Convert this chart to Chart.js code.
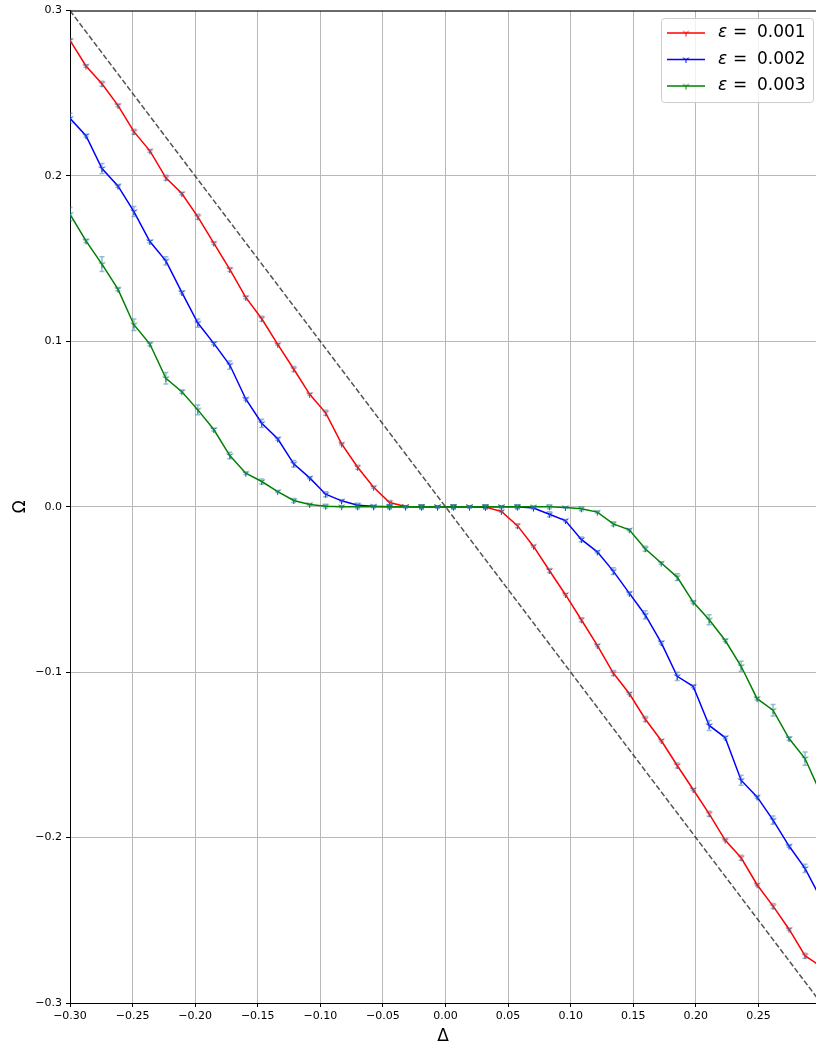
<!DOCTYPE html>
<html>
<head>
<meta charset="utf-8">
<script src="https://cdn.jsdelivr.net/npm/chart.js@4.4.0/dist/chart.umd.min.js"></script>
<style>
  html, body { margin: 0; padding: 0; background: #fff; }
  #wrap { width: 816px; height: 1048px; }
</style>
</head>
<body>
<div id="wrap"><canvas id="chart" width="816" height="1048"></canvas></div>
<script>
// detuning values (Δ)
const delta = [
  -0.3, -0.28723, -0.27447, -0.2617, -0.24894, -0.23617, -0.2234, -0.21064,
  -0.19787, -0.18511, -0.17234, -0.15957, -0.14681, -0.13404, -0.12128, -0.10851,
  -0.09574, -0.08298, -0.07021, -0.05745, -0.04468, -0.03191, -0.01915, -0.00638,
  0.00638, 0.01915, 0.03191, 0.04468, 0.05745, 0.07021, 0.08298, 0.09574,
  0.10851, 0.12128, 0.13404, 0.14681, 0.15957, 0.17234, 0.18511, 0.19787,
  0.21064, 0.2234, 0.23617, 0.24894, 0.2617, 0.27447, 0.28723, 0.3
];

// Ω for each ε
const omegaEps1 = [
  0.282, 0.2665, 0.2558, 0.2427, 0.2268, 0.2152, 0.1989, 0.1894,
  0.1753, 0.1594, 0.1435, 0.1266, 0.1137, 0.0982, 0.0833, 0.068,
  0.0568, 0.038, 0.0239, 0.0118, 0.0026, 0.0002, 0.0, 0.0,
  0.0, 0.0, -0.0002, -0.0028, -0.0114, -0.0238, -0.0385, -0.053,
  -0.0683, -0.0838, -0.1005, -0.1129, -0.1283, -0.1413, -0.1564, -0.1709,
  -0.1856, -0.2015, -0.2122, -0.2285, -0.2414, -0.2554, -0.2714, -0.278
];
const omegaEps2 = [
  0.2349, 0.2244, 0.2045, 0.194, 0.1785, 0.1604, 0.1487, 0.1296,
  0.1111, 0.0988, 0.0857, 0.0652, 0.0505, 0.0411, 0.026, 0.0175,
  0.0076, 0.0036, 0.001, 0.0004, 0.0001, 0.0, 0.0, 0.0,
  0.0, 0.0, 0.0, 0.0, 0.0, -0.0007, -0.0045, -0.0083,
  -0.0197, -0.0272, -0.0389, -0.0522, -0.0654, -0.0821, -0.1025, -0.1085,
  -0.1322, -0.1395, -0.1653, -0.1754, -0.1894, -0.2051, -0.2186, -0.237
];
const omegaEps3 = [
  0.1769, 0.1608, 0.1467, 0.1316, 0.1101, 0.0984, 0.0777, 0.0696,
  0.0586, 0.0467, 0.031, 0.0203, 0.0153, 0.0092, 0.0038, 0.0014,
  0.0004, 0.0001, 0.0, 0.0, 0.0, 0.0, 0.0, 0.0,
  0.0, 0.0, 0.0, 0.0, 0.0, 0.0, 0.0, -0.0004,
  -0.0012, -0.0032, -0.0103, -0.0139, -0.0254, -0.034, -0.0425, -0.0576,
  -0.0683, -0.0807, -0.0964, -0.116, -0.123, -0.1401, -0.1522, -0.1736
];

// error bar half-heights
const errEps1 = [
  0.001, 0.0008, 0.0015, 0.0008, 0.0015, 0.0008, 0.0015, 0.0008,
  0.0015, 0.0008, 0.0012, 0.0008, 0.0015, 0.0006, 0.0015, 0.0006,
  0.0015, 0.0006, 0.0012, 0.0006, 0.0012, 0.0005, 0.001, 0.0005,
  0.001, 0.0005, 0.001, 0.0005, 0.0012, 0.0006, 0.0012, 0.0006,
  0.0012, 0.0006, 0.0015, 0.0006, 0.0015, 0.0006, 0.0015, 0.0006,
  0.0015, 0.0006, 0.0015, 0.0006, 0.0015, 0.0006, 0.0015, 0.0006
];
const errEps2 = [
  0.003, 0.0008, 0.003, 0.0008, 0.003, 0.0008, 0.0025, 0.0008,
  0.0025, 0.0008, 0.0025, 0.0008, 0.0025, 0.0008, 0.002, 0.0006,
  0.0015, 0.0006, 0.0012, 0.0005, 0.0012, 0.0005, 0.0012, 0.0005,
  0.0012, 0.0005, 0.0012, 0.0005, 0.0012, 0.0006, 0.0015, 0.0006,
  0.0015, 0.0006, 0.002, 0.0008, 0.0025, 0.0008, 0.0025, 0.0008,
  0.003, 0.0008, 0.003, 0.0008, 0.0025, 0.0008, 0.0025, 0.0008
];
const errEps3 = [
  0.004, 0.001, 0.0045, 0.001, 0.0035, 0.001, 0.0035, 0.001,
  0.003, 0.0008, 0.002, 0.0008, 0.0015, 0.0006, 0.0012, 0.0006,
  0.0012, 0.0005, 0.0012, 0.0005, 0.0012, 0.0005, 0.0012, 0.0005,
  0.0012, 0.0005, 0.0012, 0.0005, 0.0012, 0.0005, 0.0012, 0.0005,
  0.0012, 0.0006, 0.0012, 0.0006, 0.0015, 0.0008, 0.002, 0.0008,
  0.003, 0.0008, 0.003, 0.0008, 0.0035, 0.001, 0.004, 0.001
];

const epsLabels = ['0.001', '0.002', '0.003'];
const seriesColors = ['#ff0000', '#0000ff', '#008000'];

// reference line Ω = -Δ
const refDelta = [-0.3, 0.3];
const refOmega = [0.3, -0.3];

const xTicks = [-0.3, -0.25, -0.2, -0.15, -0.1, -0.05, 0, 0.05, 0.1, 0.15, 0.2, 0.25];
const yTicks = [-0.3, -0.2, -0.1, 0, 0.1, 0.2, 0.3];

const FONT = "'DejaVu Sans', sans-serif";

function fmt(v, d) {
  if (Math.abs(v) < 1e-9) v = 0;
  return v.toFixed(d).replace('-', '\u2212');
}

// matplotlib style "1" marker (tri_down)
function triDown(color) {
  const c = document.createElement('canvas');
  c.width = 9; c.height = 9;
  const g = c.getContext('2d');
  g.strokeStyle = color;
  g.lineWidth = 1;
  const cx = 4.5, cy = 4.5, r = 3.5;
  g.beginPath();
  g.moveTo(cx, cy); g.lineTo(cx, cy + r);
  g.moveTo(cx, cy); g.lineTo(cx - r * 0.866, cy - r * 0.5);
  g.moveTo(cx, cy); g.lineTo(cx + r * 0.866, cy - r * 0.5);
  g.stroke();
  return c;
}
const markers = seriesColors.map(triDown);

function pts(xs, ys) {
  return xs.map((x, i) => ({ x: x, y: ys[i] }));
}

function series(i, ys, errs, order) {
  return {
    label: epsLabels[i],
    data: pts(delta, ys),
    errors: errs,
    borderColor: seriesColors[i],
    backgroundColor: seriesColors[i],
    borderWidth: 1.5,
    pointStyle: markers[i],
    pointRadius: 3,
    showLine: true,
    order: order
  };
}

// error bars, drawn with the chart scales
const errorBars = {
  id: 'errorBars',
  afterDatasetsDraw(chart) {
    const { ctx, chartArea: a, scales: { x, y } } = chart;
    ctx.save();
    ctx.beginPath();
    ctx.rect(a.left, a.top, a.right - a.left, a.bottom - a.top);
    ctx.clip();
    ctx.strokeStyle = 'rgba(31,119,180,0.5)';
    ctx.lineWidth = 1.5;
    chart.data.datasets.forEach(ds => {
      if (!ds.errors) return;
      ds.data.forEach((p, i) => {
        const px = x.getPixelForValue(p.x);
        const y0 = y.getPixelForValue(p.y - ds.errors[i]);
        const y1 = y.getPixelForValue(p.y + ds.errors[i]);
        ctx.beginPath();
        ctx.moveTo(px, y0); ctx.lineTo(px, y1);
        ctx.moveTo(px - 2.5, y0); ctx.lineTo(px + 2.5, y0);
        ctx.moveTo(px - 2.5, y1); ctx.lineTo(px + 2.5, y1);
        ctx.stroke();
      });
    });
    ctx.restore();
  }
};

// top spine + legend box
const frameAndLegend = {
  id: 'frameAndLegend',
  afterDraw(chart) {
    const { ctx, chartArea: a } = chart;
    ctx.save();
    ctx.strokeStyle = '#000';
    ctx.lineWidth = 1;
    ctx.beginPath();
    ctx.moveTo(a.left, a.top + 0.5);
    ctx.lineTo(a.right, a.top + 0.5);
    ctx.stroke();

    const bx = 661, by = 18, bw = 152, bh = 84;
    ctx.beginPath();
    ctx.roundRect(bx + 0.5, by + 0.5, bw, bh, 3);
    ctx.fillStyle = 'rgba(255,255,255,0.8)';
    ctx.fill();
    ctx.strokeStyle = '#cccccc';
    ctx.stroke();

    epsLabels.forEach((lab, i) => {
      const ry = 33 + i * 26.5;
      ctx.strokeStyle = seriesColors[i];
      ctx.lineWidth = 1.5;
      ctx.beginPath();
      ctx.moveTo(667, ry);
      ctx.lineTo(705, ry);
      ctx.stroke();
      ctx.drawImage(markers[i], 686 - 4.5, ry - 4.5);
      ctx.fillStyle = '#000';
      ctx.textBaseline = 'middle';
      ctx.textAlign = 'left';
      ctx.font = 'italic 17px ' + FONT;
      ctx.fillText('\u03b5', 718, ry);
      ctx.font = '17px ' + FONT;
      ctx.fillText('=', 733, ry);
      ctx.fillText(lab, 757, ry);
    });
    ctx.restore();
  }
};

const gridColor = '#b8b8b8';

new Chart(document.getElementById('chart'), {
  type: 'scatter',
  data: {
    datasets: [
      {
        label: 'ref',
        data: pts(refDelta, refOmega),
        borderColor: 'rgba(40,40,40,0.8)',
        borderWidth: 1.5,
        borderDash: [5.5, 2.4],
        pointRadius: 0,
        showLine: true,
        order: 0
      },
      series(2, omegaEps3, errEps3, 1),
      series(1, omegaEps2, errEps2, 2),
      series(0, omegaEps1, errEps1, 3)
    ]
  },
  options: {
    responsive: false,
    animation: false,
    devicePixelRatio: 1,
    events: [],
    layout: { autoPadding: false, padding: { top: 9, right: 0, left: 0, bottom: 0 } },
    plugins: {
      legend: { display: false },
      tooltip: { enabled: false }
    },
    scales: {
      x: {
        type: 'linear',
        min: -0.3,
        max: 0.296,
        afterBuildTicks: s => { s.ticks = xTicks.map(v => ({ value: v })); },
        afterFit: s => { s.height = 45; },
        ticks: {
          callback: v => fmt(v, 2),
          font: { family: FONT, size: 11 },
          color: '#000',
          padding: 3,
          maxRotation: 0,
          autoSkip: false
        },
        grid: { color: gridColor, lineWidth: 1, tickLength: 4, tickColor: '#000', tickWidth: 1 },
        border: { color: '#000', width: 1 },
        title: {
          display: true,
          text: '\u0394',
          color: '#000',
          font: { family: FONT, size: 17 },
          padding: { top: 0, bottom: 1 }
        }
      },
      y: {
        type: 'linear',
        min: -0.3,
        max: 0.3,
        afterBuildTicks: s => { s.ticks = yTicks.map(v => ({ value: v })); },
        afterFit: s => { s.width = 70; },
        ticks: {
          callback: v => fmt(v, 1),
          font: { family: FONT, size: 11 },
          color: '#000',
          padding: 4,
          autoSkip: false
        },
        grid: { color: gridColor, lineWidth: 1, tickLength: 4, tickColor: '#000', tickWidth: 1 },
        border: { color: '#000', width: 1 },
        title: {
          display: true,
          text: '\u03a9',
          color: '#000',
          font: { family: FONT, size: 17 },
          padding: { top: 10, bottom: 0 }
        }
      }
    }
  },
  plugins: [errorBars, frameAndLegend]
});
</script>
</body>
</html>
